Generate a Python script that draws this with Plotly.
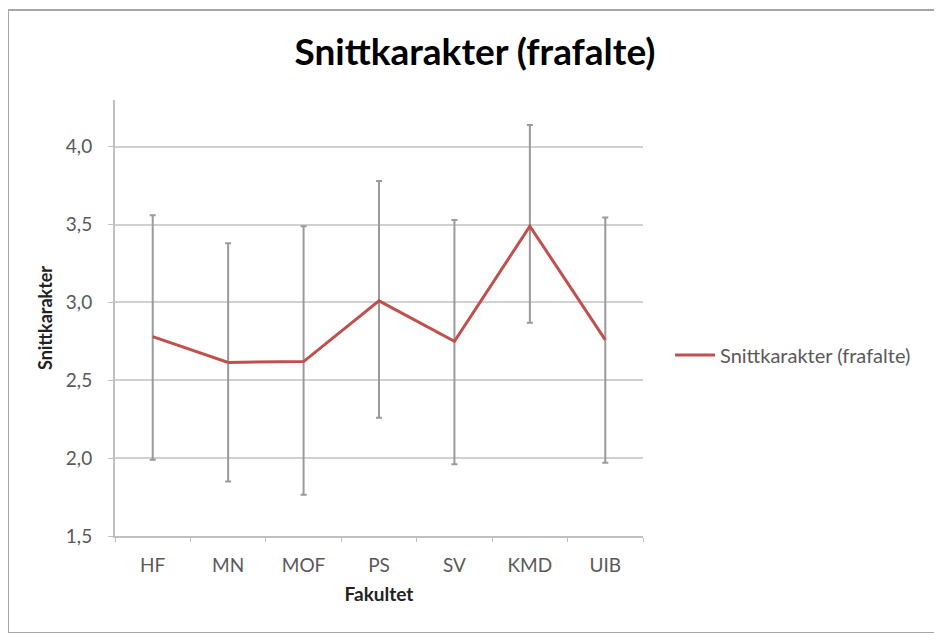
import plotly.graph_objects as go

categories = ["HF", "MN", "MOF", "PS", "SV", "KMD", "UIB"]
means = [2.78, 2.615, 2.62, 3.01, 2.75, 3.49, 2.76]
upper = [3.56, 3.38, 3.49, 3.78, 3.53, 4.14, 3.545]
lower = [1.99, 1.85, 1.765, 2.26, 1.96, 2.87, 1.97]

err_plus = [u - m for u, m in zip(upper, means)]
err_minus = [m - l for m, l in zip(means, lower)]

OFF = 8  # default page margin of the browser body
W, H = 942 - OFF, 633 - OFF
# plot area in screen pixels, converted to figure pixels
L, R, T, B = 115 - OFF, 643 - OFF, 100 - OFF, 536 - OFF

def px_x(p):
    return (p - OFF - L) / (R - L)

def px_y(p):
    return (B - (p - OFF)) / (B - T)

FONT = "Lato, 'Open Sans', sans-serif"

fig = go.Figure()
fig.add_trace(go.Scatter(
    x=categories, y=means, mode="lines",
    name="Snittkarakter (frafalte)",
    line=dict(color="#c0504d", width=3),
    error_y=dict(type="data", symmetric=False, array=err_plus, arrayminus=err_minus,
                 color="#9a9a9a", thickness=2, width=3),
))

fig.update_layout(
    width=W, height=H,
    margin=dict(l=L, r=W - R, t=T, b=H - B),
    paper_bgcolor="white", plot_bgcolor="white",
    title=dict(text="<b>Snittkarakter (frafalte)</b>", x=0.5, xref="container",
               y=1 - (52 - OFF) / H, yref="container", yanchor="middle",
               font=dict(family=FONT, size=37, color="#000000")),
    font=dict(family=FONT, color="#595959"),
    showlegend=True,
    legend=dict(x=px_x(670), y=px_y(355), xanchor="left", yanchor="middle",
                font=dict(family=FONT, size=20, color="#595959"),
                bgcolor="rgba(0,0,0,0)", itemwidth=40),
    xaxis=dict(
        type="category", showgrid=False, showline=True, linecolor="#bfbfbf", linewidth=2,
        ticks="outside", tickson="boundaries", ticklen=4, tickcolor="#bfbfbf",
        tickfont=dict(family=FONT, size=19, color="#595959"),
        ticklabelstandoff=11,
        title=dict(text="<b>Fakultet</b>", font=dict(family=FONT, size=19, color="#222222"),
                   standoff=13),
        range=[-0.5, 6.5], fixedrange=True,
    ),
    yaxis=dict(
        range=[1.5, 4.3], dtick=0.5, tick0=1.5, showgrid=True, gridcolor="#d0d0d0", gridwidth=2,
        showline=True, linecolor="#bfbfbf", linewidth=2, ticks="outside", ticklen=5,
        tickcolor="#bfbfbf", tickformat=".1f",
        tickfont=dict(family=FONT, size=19, color="#595959"),
        ticklabelstandoff=12,
        zeroline=False,
        title=dict(text="<b>Snittkarakter</b>", font=dict(family=FONT, size=18, color="#222222"),
                   standoff=9),
    ),
    separators=", ",
)

fig.add_shape(type="rect", xref="paper", yref="paper",
              x0=px_x(8), x1=px_x(940), y0=px_y(633), y1=px_y(10),
              line=dict(color="#a6a6a6", width=2), fillcolor="rgba(0,0,0,0)", layer="below")

fig.write_html("out.html")
